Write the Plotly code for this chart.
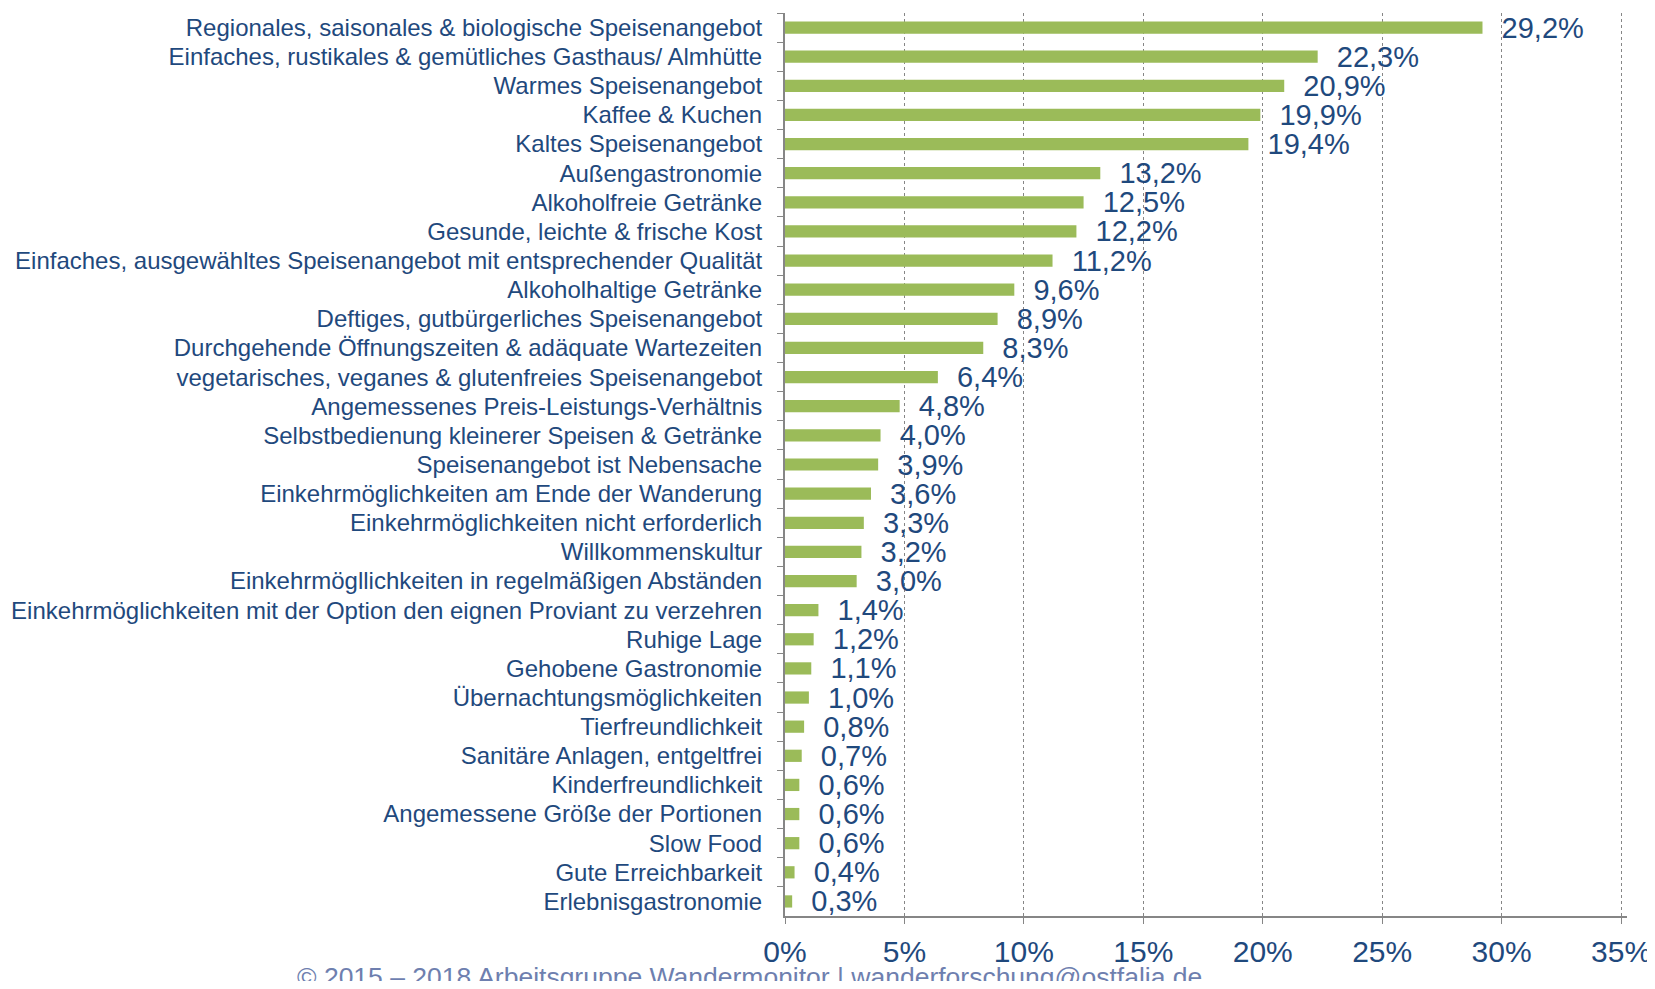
import plotly.graph_objects as go

# Categories top-to-bottom as shown in the chart
CATEGORIES = [
    "Regionales, saisonales & biologische Speisenangebot",
    "Einfaches, rustikales & gemütliches Gasthaus/ Almhütte",
    "Warmes Speisenangebot",
    "Kaffee & Kuchen",
    "Kaltes Speisenangebot",
    "Außengastronomie",
    "Alkoholfreie Getränke",
    "Gesunde, leichte & frische Kost",
    "Einfaches, ausgewähltes Speisenangebot mit entsprechender Qualität",
    "Alkoholhaltige Getränke",
    "Deftiges, gutbürgerliches Speisenangebot",
    "Durchgehende Öffnungszeiten & adäquate Wartezeiten",
    "vegetarisches, veganes & glutenfreies Speisenangebot",
    "Angemessenes Preis-Leistungs-Verhältnis",
    "Selbstbedienung kleinerer Speisen & Getränke",
    "Speisenangebot ist Nebensache",
    "Einkehrmöglichkeiten am Ende der Wanderung",
    "Einkehrmöglichkeiten nicht erforderlich",
    "Willkommenskultur",
    "Einkehrmögllichkeiten in regelmäßigen Abständen",
    "Einkehrmöglichkeiten mit der Option den eignen Proviant zu verzehren",
    "Ruhige Lage",
    "Gehobene Gastronomie",
    "Übernachtungsmöglichkeiten",
    "Tierfreundlichkeit",
    "Sanitäre Anlagen, entgeltfrei",
    "Kinderfreundlichkeit",
    "Angemessene Größe der Portionen",
    "Slow Food",
    "Gute Erreichbarkeit",
    "Erlebnisgastronomie",
]

# Share in percent
VALUES = [29.2, 22.3, 20.9, 19.9, 19.4, 13.2, 12.5, 12.2, 11.2, 9.6, 8.9, 8.3,
          6.4, 4.8, 4.0, 3.9, 3.6, 3.3, 3.2, 3.0, 1.4, 1.2, 1.1, 1.0, 0.8,
          0.7, 0.6, 0.6, 0.6, 0.4, 0.3]

X_TICKS = [0, 5, 10, 15, 20, 25, 30, 35]
X_TICK_LABELS = ["0%", "5%", "10%", "15%", "20%", "25%", "30%", "35%"]

FOOTER = "© 2015 – 2018 Arbeitsgruppe Wandermonitor | wanderforschung@ostfalia.de"

BAR_COLOR = "#9BBB59"
TEXT_BLUE = "#1F497D"
AXIS_GRAY = "#868686"
FONT = "Liberation Sans, Arial, sans-serif"

# german decimal comma, two non-breaking spaces as gap after the bar
labels = ["\u00a0\u00a0" + f"{v:.1f}%".replace(".", ",") for v in VALUES]

fig = go.Figure()
fig.add_trace(go.Bar(
    x=VALUES, y=CATEGORIES, orientation="h",
    marker=dict(color=BAR_COLOR, line=dict(width=0)),
    text=labels, textposition="outside", constraintext="none",
    textfont=dict(family=FONT, size=29, color=TEXT_BLUE),
    cliponaxis=False,
))

# page body has an 8px margin, so the figure is offset for it
fig.update_layout(
    width=1647, height=973,
    margin=dict(l=777, r=28, t=5, b=65, autoexpand=False),
    paper_bgcolor="white", plot_bgcolor="white",
    font=dict(family=FONT, color=TEXT_BLUE),
    bargap=0.58,
    showlegend=False,
    xaxis=dict(
        range=[0, 35.25], tickvals=X_TICKS, ticktext=X_TICK_LABELS,
        showgrid=True, gridcolor=AXIS_GRAY, griddash="dot", gridwidth=1,
        showline=True, linecolor=AXIS_GRAY, linewidth=2,
        ticks="outside", ticklen=6, tickcolor=AXIS_GRAY,
        tickfont=dict(family=FONT, size=30, color=TEXT_BLUE),
        ticklabelstandoff=2, ticklabeloverflow="allow",
        zeroline=False, automargin=False,
    ),
    yaxis=dict(
        autorange="reversed",
        showline=True, linecolor=AXIS_GRAY, linewidth=2,
        ticks="outside", ticklen=6, tickcolor=AXIS_GRAY, tickson="boundaries",
        tickfont=dict(family=FONT, size=24, color=TEXT_BLUE),
        ticklabelstandoff=16, showgrid=False, automargin=False,
    ),
    annotations=[dict(
        text=FOOTER, xref="paper", yref="paper", x=-0.042, y=0,
        xanchor="center", yanchor="middle", yshift=-61, showarrow=False,
        font=dict(family=FONT, size=26.5, color="#6E7FAF"),
    )],
)

fig.write_html("out.html")
